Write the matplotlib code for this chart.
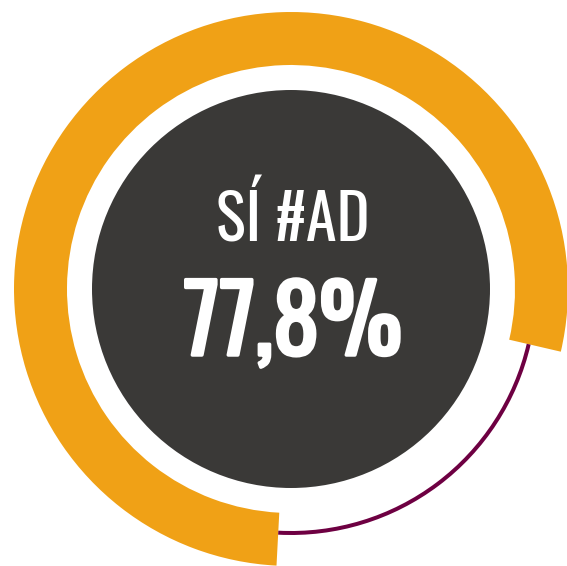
import matplotlib
matplotlib.use("Agg")
import matplotlib.pyplot as plt
import matplotlib.patheffects as pe

# Data
labels = ["Sí", "No"]
values = [77.8, 22.2]
title_text = "SÍ #AD"
value_text = "77,8%"

orange = "#F0A116"
maroon = "#6E0042"
dark = "#3A3937"
family = ["Oswald", "DejaVu Sans"]

fig = plt.figure(figsize=(5.67, 5.66), dpi=100)
ax = fig.add_axes([0, 0, 1, 1])

cx, cy = 291, 566 - 289

# thick orange ring for "Sí"
ax.pie(values, colors=[orange, "none"], startangle=267, counterclock=False,
       radius=277, center=(cx, cy), wedgeprops=dict(width=53, linewidth=0), frame=True)
# thin line for the rest
ax.pie(values, colors=["none", maroon], startangle=267, counterclock=False,
       radius=246, center=(cx, cy), wedgeprops=dict(width=4, linewidth=0), frame=True)

ax.add_patch(plt.Circle((cx, cy), 199, color=dark, linewidth=0))

ax.set_xlim(0, 567)
ax.set_ylim(0, 566)
ax.set_aspect("equal")
ax.axis("off")

ax.text(cx + 2, 566 - 241, title_text, color="white", fontsize=45, family=family,
        ha="center", va="baseline")
ax.text(cx + 2, 566 - 355, value_text, color="white", fontsize=67, family=family,
        ha="center", va="baseline",
        path_effects=[pe.withStroke(linewidth=2.5, foreground="white")])

fig.savefig("out.png", dpi=100)
